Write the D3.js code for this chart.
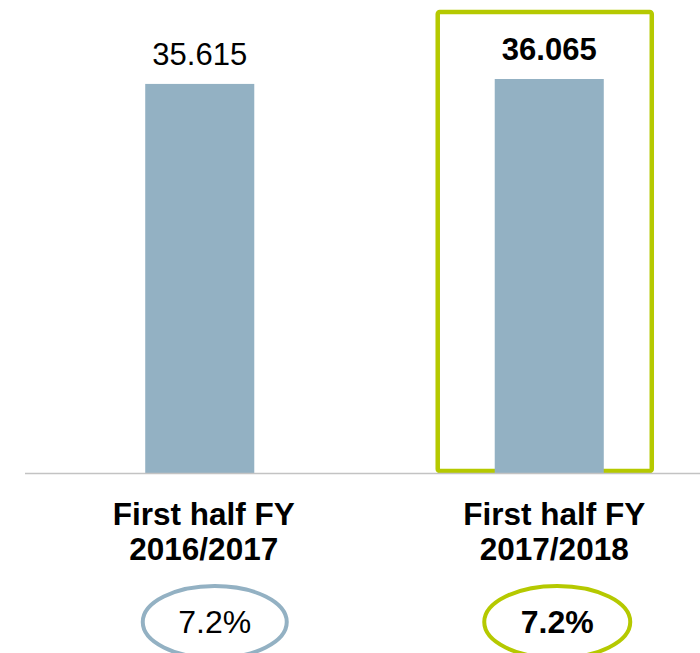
<!DOCTYPE html>
<html>
<head>
<meta charset="utf-8">
<script src="https://cdn.jsdelivr.net/npm/d3@7"></script>
<style>
  body { margin: 0; background: #fff; }
  svg { display: block; font-family: "Liberation Sans", Arial, sans-serif; }
</style>
</head>
<body>
<div id="chart"></div>
<script>
const CATEGORIES = ["First half FY 2016/2017", "First half FY 2017/2018"];
const LINE1 = ["First half FY", "First half FY"];
const LINE2 = ["2016/2017", "2017/2018"];
const VALUES = [35.615, 36.065];
const VALUE_LABELS = ["35.615", "36.065"];
const GROWTH = ["7.2%", "7.2%"];

const WIDTH = 700;
const HEIGHT = 653;
const BASE = 473;
const BAR_COLOR = "#93b1c3";
const GREEN = "#b5c900";
// small horizontal nudges of the labels below the axis
const CAT_SHIFT = [4, 5];
const OVAL_SHIFT = [15, 8];

const svg = d3.select("#chart")
  .append("svg")
  .attr("width", WIDTH)
  .attr("height", HEIGHT);

const X_SCALE = d3.scaleBand()
  .domain(CATEGORIES)
  .range([25, 724])
  .paddingInner(0.688)
  .paddingOuter(0.344);

const Y_SCALE = d3.scaleLinear()
  .domain([0, d3.max(VALUES)])
  .range([BASE, 79]);

const data = CATEGORIES.map((c, i) => ({ i: i, cat: c, v: VALUES[i], lab: VALUE_LABELS[i], l1: LINE1[i], l2: LINE2[i], g: GROWTH[i], hl: i === 1 }));
const cx = d => X_SCALE(d.cat) + X_SCALE.bandwidth() / 2;

// highlight box around current period
const hl = data[1];
svg.append("rect")
  .attr("x", X_SCALE(hl.cat) - 57)
  .attr("y", 12)
  .attr("width", X_SCALE.bandwidth() + 105)
  .attr("height", BASE - 14)
  .attr("rx", 2)
  .attr("fill", "none")
  .attr("stroke", GREEN)
  .attr("stroke-width", 4.5);

svg.selectAll("rect.bar")
  .data(data)
  .enter()
  .append("rect")
  .attr("class", "bar")
  .attr("x", d => X_SCALE(d.cat))
  .attr("y", d => Y_SCALE(d.v))
  .attr("width", X_SCALE.bandwidth())
  .attr("height", d => BASE - Y_SCALE(d.v))
  .attr("fill", BAR_COLOR);

// baseline
svg.append("line")
  .attr("x1", 25).attr("x2", WIDTH)
  .attr("y1", BASE + 0.5).attr("y2", BASE + 0.5)
  .attr("stroke", "#c3c3c3")
  .attr("stroke-width", 1.5);

svg.selectAll("text.val")
  .data(data)
  .enter()
  .append("text")
  .attr("class", "val")
  .attr("x", cx)
  .attr("y", d => Y_SCALE(d.v) - 19)
  .attr("text-anchor", "middle")
  .attr("font-size", 31)
  .attr("font-weight", d => d.hl ? "bold" : "normal")
  .attr("fill", "#000")
  .text(d => d.lab);

const cat = svg.selectAll("text.cat")
  .data(data)
  .enter()
  .append("text")
  .attr("class", "cat")
  .attr("text-anchor", "middle")
  .attr("font-size", 31.5)
  .attr("font-weight", "bold")
  .attr("fill", "#000");
cat.append("tspan").attr("x", d => cx(d) + CAT_SHIFT[d.i]).attr("y", 525).text(d => d.l1);
cat.append("tspan").attr("x", d => cx(d) + CAT_SHIFT[d.i]).attr("y", 560).text(d => d.l2);

// growth ellipses
svg.selectAll("ellipse")
  .data(data)
  .enter()
  .append("ellipse")
  .attr("cx", d => cx(d) + OVAL_SHIFT[d.i])
  .attr("cy", 622)
  .attr("rx", d => d.hl ? 73 : 72)
  .attr("ry", 36)
  .attr("fill", "none")
  .attr("stroke", d => d.hl ? GREEN : BAR_COLOR)
  .attr("stroke-width", 4);

svg.selectAll("text.growth")
  .data(data)
  .enter()
  .append("text")
  .attr("class", "growth")
  .attr("x", d => cx(d) + OVAL_SHIFT[d.i])
  .attr("y", 633)
  .attr("text-anchor", "middle")
  .attr("font-size", 32)
  .attr("font-weight", d => d.hl ? "bold" : "normal")
  .attr("fill", "#000")
  .text(d => d.g);
</script>
</body>
</html>
